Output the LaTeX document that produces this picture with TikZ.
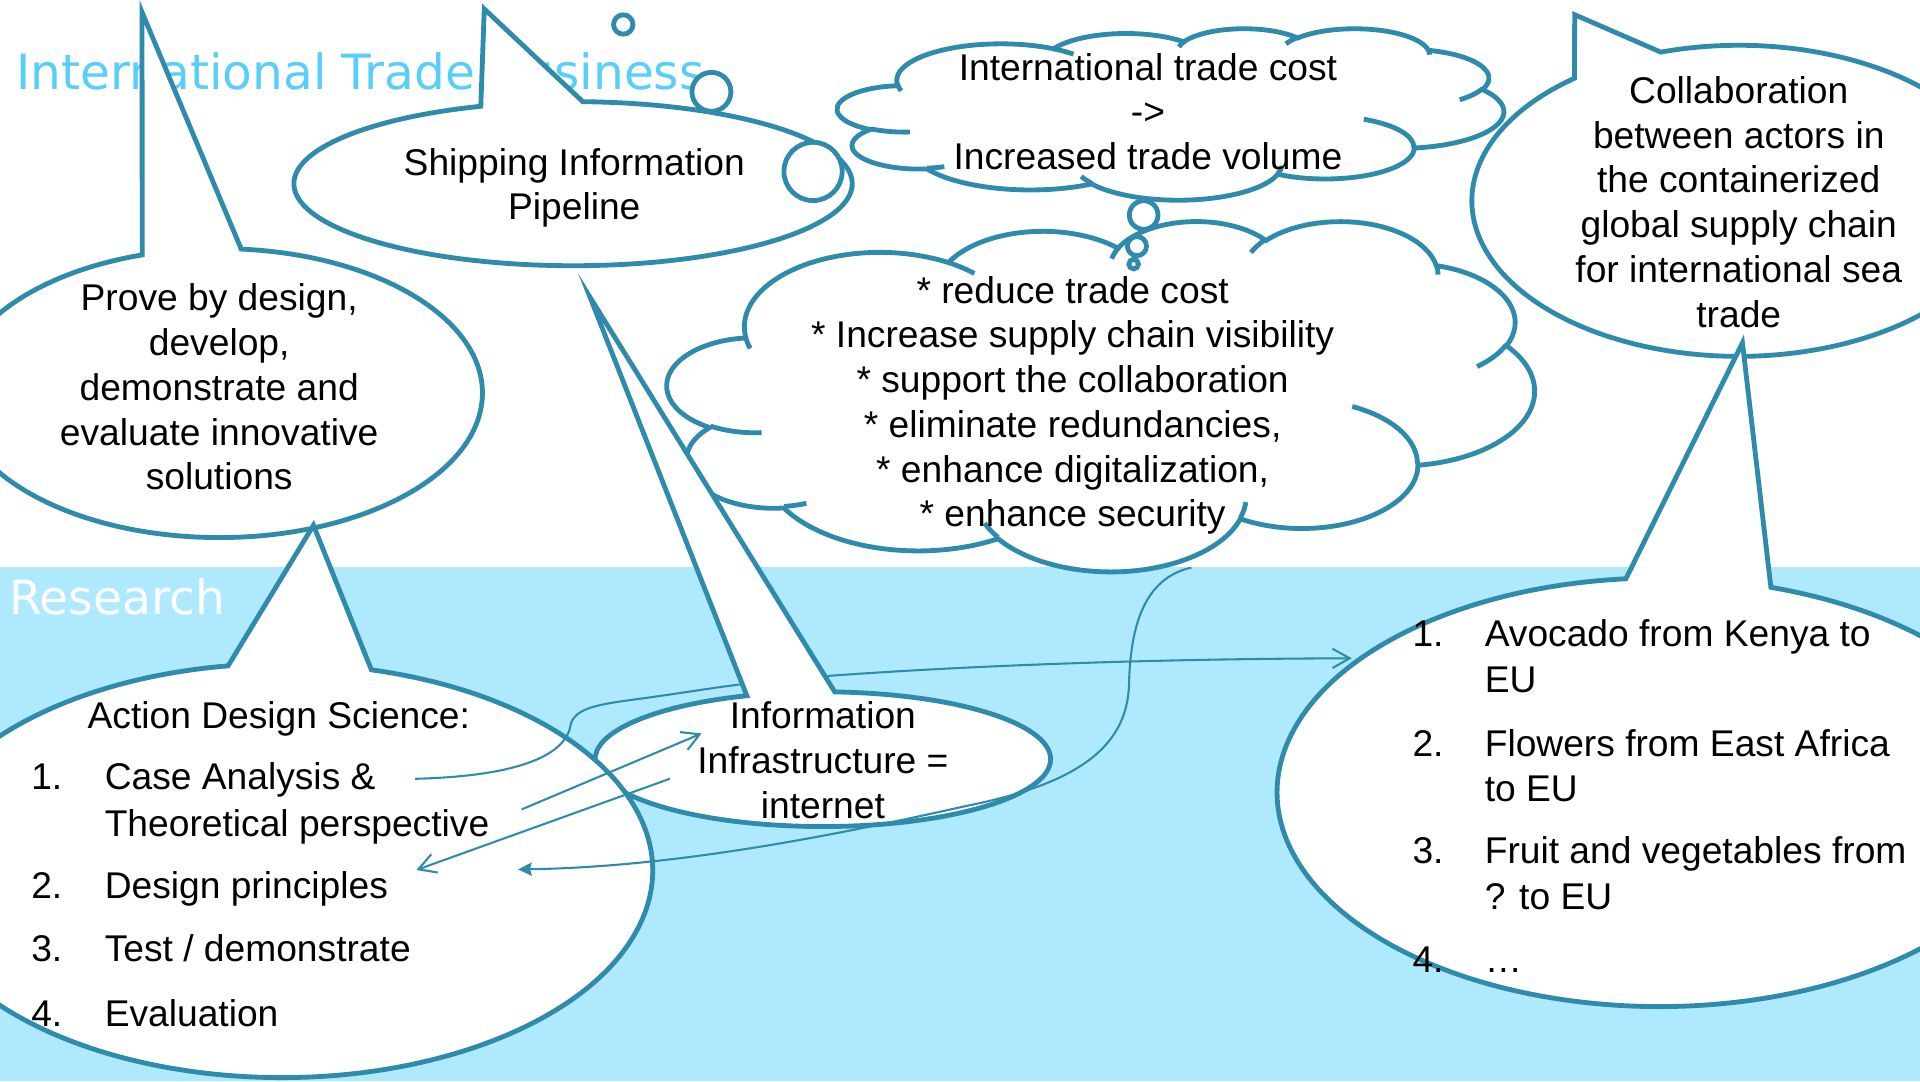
\documentclass[tikz,border=0pt]{standalone}
\usepackage{fontspec}
\setmainfont{Liberation Sans}
\newfontfamily\titlefont{DejaVu Sans}
\usetikzlibrary{arrows.meta}
\definecolor{edge}{RGB}{47,139,171}
\definecolor{band}{RGB}{174,233,253}
\definecolor{titleblue}{RGB}{88,206,250}

\newcommand\ooarc[4]{%
  \pgfmathsetmacro\ooTa{atan2((#1)*sin(#3),(#2)*cos(#3))}%
  \pgfmathsetmacro\ooTb{atan2((#1)*sin((#3)+(#4)),(#2)*cos((#3)+(#4)))}%
  \pgfmathsetmacro\ooDa{mod(\ooTb-\ooTa+720,360)}%
  \global\let\ooT\ooTa\global\let\ooD\ooDa}

\newcommand\calloutbubble[8]{%
  \path[bubble] (#1,#2) ++(#5:#3 and #4) arc[start angle=#5,end angle=#6,x radius=#3,y radius=#4] -- (#7,#8) -- cycle;}

\newcommand\ppcloud[4]{%
\begin{scope}[shift={(#1,#2)},xscale={#3/432},yscale={#4/432}]
\path[bubble] (39.00,143.70)
 \pgfextra{\ooarc{67.53}{91.90}{-190.4875}{123.7805}} arc[start angle=\ooT,delta angle=\ooD,x radius=67.53,y radius=91.90]
 \pgfextra{\ooarc{53.33}{72.67}{-144.1024}{89.9452}} arc[start angle=\ooT,delta angle=\ooD,x radius=53.33,y radius=72.67]
 \pgfextra{\ooarc{43.65}{59.45}{-145.8079}{99.7230}} arc[start angle=\ooT,delta angle=\ooD,x radius=43.65,y radius=59.45]
 \pgfextra{\ooarc{48.57}{65.95}{-130.9861}{117.2417}} arc[start angle=\ooT,delta angle=\ooD,x radius=48.57,y radius=65.95]
 \pgfextra{\ooarc{53.33}{72.73}{-78.7089}{109.0269}} arc[start angle=\ooT,delta angle=\ooD,x radius=53.33,y radius=72.73]
 \pgfextra{\ooarc{67.75}{92.20}{-46.2673}{130.2690}} arc[start angle=\ooT,delta angle=\ooD,x radius=67.75,y radius=92.20]
 \pgfextra{\ooarc{57.85}{78.67}{0.6250}{114.0333}} arc[start angle=\ooT,delta angle=\ooD,x radius=57.85,y radius=78.67]
 \pgfextra{\ooarc{67.52}{92.15}{22.4516}{115.1726}} arc[start angle=\ooT,delta angle=\ooD,x radius=67.52,y radius=92.15]
 \pgfextra{\ooarc{77.20}{105.43}{66.2426}{75.7110}} arc[start angle=\ooT,delta angle=\ooD,x radius=77.20,y radius=105.43]
 \pgfextra{\ooarc{43.60}{59.18}{-274.9421}{146.7356}} arc[start angle=\ooT,delta angle=\ooD,x radius=43.60,y radius=59.18]
 \pgfextra{\ooarc{43.45}{59.45}{-246.8285}{152.5189}} arc[start angle=\ooT,delta angle=\ooD,x radius=43.45,y radius=59.45]
 -- cycle;
\path[inner]
 (46.93,261.77) \pgfextra{\ooarc{43.45}{59.45}{86.742}{26.4295}} arc[start angle=\ooT,delta angle=\ooD,x radius=43.45,y radius=59.45]
 (69.28,348.99) \pgfextra{\ooarc{43.60}{59.18}{73.6105}{11.4475}} arc[start angle=\ooT,delta angle=\ooD,x radius=43.60,y radius=59.18]
 (164.78,390.90) \pgfextra{\ooarc{67.52}{92.15}{137.6242}{14.0811}} arc[start angle=\ooT,delta angle=\ooD,x radius=67.52,y radius=92.15]
 (288.27,347.51) \pgfextra{\ooarc{67.52}{92.15}{6.4533}{15.9984}} arc[start angle=\ooT,delta angle=\ooD,x radius=67.52,y radius=92.15]
 (341.29,229.54) \pgfextra{\ooarc{57.85}{78.67}{-70.2924}{70.9174}} arc[start angle=\ooT,delta angle=\ooD,x radius=57.85,y radius=78.67]
 (417.98,153.54) \pgfextra{\ooarc{53.33}{72.73}{30.318}{27.7515}} arc[start angle=\ooT,delta angle=\ooD,x radius=53.33,y radius=72.73]
 (383.24,54.26) \pgfextra{\ooarc{48.57}{65.95}{-13.7443}{14.8589}} arc[start angle=\ooT,delta angle=\ooD,x radius=48.57,y radius=65.95]
 (290.78,39.52) \pgfextra{\ooarc{48.57}{65.95}{-149.1815}{18.1954}} arc[start angle=\ooT,delta angle=\ooD,x radius=48.57,y radius=65.95]
 (221.41,47.20) \pgfextra{\ooarc{43.65}{59.45}{-163.4943}{17.6864}} arc[start angle=\ooT,delta angle=\ooD,x radius=43.65,y radius=59.45]
 (140.00,51.92) \pgfextra{\ooarc{67.53}{91.90}{-66.7070}{12.3194}} arc[start angle=\ooT,delta angle=\ooD,x radius=67.53,y radius=91.90]
 (41.27,157.89) \pgfextra{\ooarc{67.53}{91.90}{157.6544}{11.8582}} arc[start angle=\ooT,delta angle=\ooD,x radius=67.53,y radius=91.90];
\end{scope}}

\begin{document}
\begin{tikzpicture}[x=0.0125cm,y=-0.0125cm,
  bubble/.style={draw=edge,line width=1.4pt,fill=white,miter limit=25},
  inner/.style={draw=edge,line width=1.4pt},
  conn/.style={draw=edge,line width=0.6pt},
  barb/.style={-{Straight Barb[length=5pt,width=5.6pt]}},
  txt/.style={font=\fontsize{10.8}{13}\selectfont,inner sep=0pt,align=center},
  ltxt/.style={font=\fontsize{10.8}{13}\selectfont,inner sep=0pt,anchor=base west},
  head/.style={font=\titlefont\fontsize{13.7}{16}\selectfont,inner sep=0pt,anchor=base west}]
\useasboundingbox (0,0) rectangle (1568,883);
\clip (0,0) rectangle (1568,883);
\fill[white] (0,0) rectangle (1568,883);
\fill[band] (0,463) rectangle (1568,883);
\node[head,text=titleblue,font=\titlefont\fontsize{14.1}{16}\selectfont] (title) at (13,73) {International Trade Business};
\node[head,text=white] (research) at (7,502) {Research};

% Prove bubble
\calloutbubble{179}{321}{215}{118}{274.8}{613}{116}{10}
% Shipping bubble
\calloutbubble{468}{150}{228}{67}{272}{610.7}{395.5}{7.3}
% lower cloud callout
\ppcloud{545}{180}{708}{286}
\path[bubble] (664,140) circle[radius=23.8];
\path[bubble] (581,75) circle[radius=15.9];
\path[bubble] (509,20) circle[radius=7.9];
% top cloud callout
\ppcloud{684}{23}{544}{140}
\path[bubble] (934,175.6) circle[radius=11.7];
\path[bubble] (928.5,201) circle[radius=7.8];
\path[bubble] (925.8,215.7) circle[radius=3.9];
% Information infrastructure bubble
\calloutbubble{672}{620}{186}{55}{273}{610.5}{482}{243}
% Collaboration bubble
\calloutbubble{1420}{164}{218}{127}{253}{592}{1286}{12}
% Action design science bubble
\calloutbubble{230}{711}{303}{169}{284}{621.7}{256}{429}
% Right list bubble
\calloutbubble{1355}{647}{312}{175}{287}{625}{1423}{280}

% connectors
\coordinate (aS) at (339,636); \coordinate (aE) at (604,559);
\coordinate (bS) at (426,661); \coordinate (bE) at (573,599);
\coordinate (cS) at (547,636); \coordinate (cE) at (340,710.5);
\coordinate (dS) at (676,552); \coordinate (dE) at (1104,537.6);
\coordinate (eS) at (973,463.5); \coordinate (eE) at (423,710);
\draw[conn] (aS) .. controls (420,634) and (462,618) .. (466,592) .. controls (469,578) and (490,575) .. (520,571) .. controls (550,567) and (580,562) .. (aE);
\draw[conn,barb] (bS) -- (bE);
\draw[conn,barb] (cS) -- (cE);
\draw[conn,barb] (dS) .. controls (800,543) and (950,538) .. (dE);
\draw[conn,-{Stealth[length=4pt,width=3.8pt,inset=0.5pt]}] (eS) .. controls (935,472) and (923,510) .. (922,560) .. controls (920,610) and (880,640) .. (790,658) .. controls (700,678) and (560,708) .. (eE);

% texts
\node[txt] (prove) at (179,316) {Prove by design,\\develop,\\demonstrate and\\evaluate innovative\\solutions};
\node[txt] (ship) at (469,153.5) {Shipping Information\\Pipeline};
\node[txt] (topc) at (937.5,91.2) {International trade cost\\->\\Increased trade volume};
\node[txt] (lowc) at (876,331) {* reduce trade cost\\* Increase supply chain visibility\\* support the collaboration\\* eliminate redundancies,\\* enhance digitalization,\\* enhance security};
\node[txt] (collab) at (1420,165) {Collaboration\\between actors in\\the containerized\\global supply chain\\for international sea\\trade};
\node[txt] (info) at (672,621) {Information\\Infrastructure =\\internet};

\node[ltxt] (ads) at (71,595) {Action Design Science:};
\node[ltxt] (l1n) at (25,645) {1.};
\node[ltxt] (l1a) at (85,645) {Case Analysis \&};
\node[ltxt] (l1b) at (85,683) {Theoretical perspective};
\node[ltxt] (l2n) at (25,734) {2.};
\node[ltxt] (l2) at (85,734) {Design principles};
\node[ltxt] (l3n) at (25,785) {3.};
\node[ltxt] (l3) at (85,785) {Test / demonstrate};
\node[ltxt] (l4n) at (25,838) {4.};
\node[ltxt] (l4) at (85,838) {Evaluation};

\node[ltxt] (r1n) at (1153,528) {1.};
\node[ltxt] (r1a) at (1212,528) {Avocado from Kenya to};
\node[ltxt] (r1b) at (1212,565.5) {EU};
\node[ltxt] (r2n) at (1153,617.5) {2.};
\node[ltxt] (r2a) at (1212,617.5) {Flowers from East Africa};
\node[ltxt] (r2b) at (1212,654.5) {to EU};
\node[ltxt] (r3n) at (1153,705.5) {3.};
\node[ltxt] (r3a) at (1212,705.5) {Fruit and vegetables from};
\node[ltxt] (r3b) at (1212,742.5) {? to EU};
\node[ltxt] (r4n) at (1153,794.5) {4.};
\node[ltxt] (r4) at (1212,794.5) {…};
\end{tikzpicture}
\end{document}
